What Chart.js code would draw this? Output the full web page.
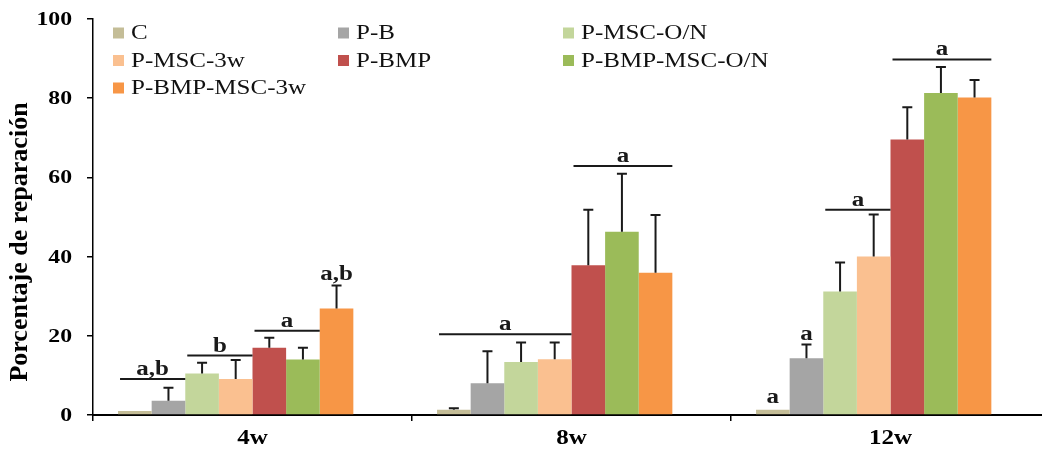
<!DOCTYPE html>
<html>
<head>
<meta charset="utf-8">
<script src="https://cdn.jsdelivr.net/npm/chart.js@4.4.1/dist/chart.umd.min.js"></script>
<style>
  html, body { margin: 0; padding: 0; background: #fff; overflow: hidden; }
  #wrap { position: relative; width: 1050px; height: 453px; }
</style>
</head>
<body>
<div id="wrap"><canvas id="c" width="1050" height="453"></canvas></div>
<script>
// Time points and treatment groups
const categories = ['4w', '8w', '12w'];
const groupNames = ['C', 'P-B', 'P-MSC-O/N', 'P-MSC-3w', 'P-BMP', 'P-BMP-MSC-O/N', 'P-BMP-MSC-3w'];
const groupColors = ['#C4BD97', '#A5A5A5', '#C3D69B', '#FAC090', '#C0504D', '#9BBB59', '#F79646'];

// Mean repair percentage per group (4w, 8w, 12w)
const meanC         = [1.0, 1.3, 1.3];
const meanPB        = [3.6, 8.0, 14.3];
const meanMscON     = [10.5, 13.4, 31.2];
const meanMsc3w     = [9.1, 14.1, 40.0];
const meanBmp       = [17.0, 37.8, 69.6];
const meanBmpMscON  = [14.0, 46.3, 81.3];
const meanBmpMsc3w  = [26.9, 35.9, 80.2];

// Standard deviations (upper whiskers only)
const sdC           = [0, 0.4, 0];
const sdPB          = [3.3, 8.1, 3.5];
const sdMscON       = [2.7, 4.9, 7.3];
const sdMsc3w       = [4.8, 4.2, 10.6];
const sdBmp         = [2.5, 14.0, 8.1];
const sdBmpMscON    = [3.0, 14.6, 6.6];
const sdBmpMsc3w    = [5.8, 14.6, 4.4];

const yTicks = [0, 20, 40, 60, 80, 100];
const yTitle = 'Porcentaje de reparación';

// Significance brackets: category, first bar, last bar, height, letter
const sigBrackets = [
  { cat: 0, from: 0, to: 1, y: 9.1,  text: 'a,b' },
  { cat: 0, from: 2, to: 3, y: 15.0, text: 'b' },
  { cat: 0, from: 4, to: 5, y: 21.3, text: 'a' },
  { cat: 1, from: 0, to: 3, y: 20.4, text: 'a' },
  { cat: 1, from: 4, to: 6, y: 62.9, text: 'a' },
  { cat: 2, from: 2, to: 3, y: 51.8, text: 'a' },
  { cat: 2, from: 4, to: 6, y: 89.8, text: 'a' }
];
// Single-bar significance letters (baseline height)
const sigLetters = [
  { cat: 0, bar: 6, y: 34.1, text: 'a,b' },
  { cat: 2, bar: 0, y: 3.0,  text: 'a' },
  { cat: 2, bar: 1, y: 18.9, text: 'a' }
];

const means = [meanC, meanPB, meanMscON, meanMsc3w, meanBmp, meanBmpMscON, meanBmpMsc3w];
const sds   = [sdC, sdPB, sdMscON, sdMsc3w, sdBmp, sdBmpMscON, sdBmpMsc3w];

const SERIF = '"Liberation Serif", "Times New Roman", Times, serif';
const INK = '#1a1a1a';
const WIDE = 1.25;   // horizontal stretch of the lettering

// text drawn with a horizontal stretch around its anchor point
function wideText(ctx, text, x, y, align, baseline, font, color) {
  ctx.save();
  ctx.font = font;
  ctx.fillStyle = color;
  ctx.textAlign = align;
  ctx.textBaseline = baseline;
  ctx.translate(x, y);
  ctx.scale(WIDE, 1);
  ctx.fillText(text, 0, 0);
  ctx.restore();
}

const datasets = groupNames.map((name, i) => ({
  label: name,
  data: means[i],
  backgroundColor: groupColors[i],
  borderWidth: 0,
  categoryPercentage: 0.843,
  barPercentage: 1.0
}));
// empty trailing slot in each group
datasets.push({
  label: '',
  data: [null, null, null],
  backgroundColor: 'rgba(0,0,0,0)',
  borderWidth: 0,
  categoryPercentage: 0.843,
  barPercentage: 1.0
});

const errorBars = {
  id: 'errorBars',
  afterDatasetsDraw(chart) {
    const ctx = chart.ctx;
    const ys = chart.scales.y;
    ctx.save();
    ctx.strokeStyle = INK;
    ctx.lineWidth = 2;
    sds.forEach((sd, i) => {
      const meta = chart.getDatasetMeta(i);
      sd.forEach((s, g) => {
        if (!s) return;
        const el = meta.data[g];
        const y0 = ys.getPixelForValue(means[i][g]);
        const y1 = ys.getPixelForValue(means[i][g] + s);
        ctx.beginPath();
        ctx.moveTo(el.x, y0);
        ctx.lineTo(el.x, y1);
        ctx.moveTo(el.x - 5, y1);
        ctx.lineTo(el.x + 5, y1);
        ctx.stroke();
      });
    });
    ctx.restore();
  }
};

const significance = {
  id: 'significance',
  afterDatasetsDraw(chart) {
    const ctx = chart.ctx;
    const ys = chart.scales.y;
    const font = 'bold 20px ' + SERIF;
    ctx.save();
    ctx.strokeStyle = INK;
    ctx.lineWidth = 2;
    sigBrackets.forEach(b => {
      const a = chart.getDatasetMeta(b.from).data[b.cat];
      const z = chart.getDatasetMeta(b.to).data[b.cat];
      const x0 = a.x - a.width / 2 + 2;
      const x1 = z.x + z.width / 2;
      const y = ys.getPixelForValue(b.y);
      ctx.beginPath();
      ctx.moveTo(x0, y);
      ctx.lineTo(x1, y);
      ctx.stroke();
      wideText(ctx, b.text, (x0 + x1) / 2, y - 4, 'center', 'alphabetic', font, INK);
    });
    sigLetters.forEach(m => {
      const el = chart.getDatasetMeta(m.bar).data[m.cat];
      wideText(ctx, m.text, el.x, ys.getPixelForValue(m.y), 'center', 'alphabetic', font, INK);
    });
    ctx.restore();
  }
};

// axis labels and title
const axisText = {
  id: 'axisText',
  afterDraw(chart) {
    const ctx = chart.ctx;
    const xs = chart.scales.x, ys = chart.scales.y;
    const area = chart.chartArea;
    ys.ticks.forEach(t => {
      wideText(ctx, String(t.value), area.left - 21, ys.getPixelForValue(t.value) + 1,
               'right', 'middle', 'bold 19px ' + SERIF, '#000');
    });
    categories.forEach((c, i) => {
      wideText(ctx, c, xs.getPixelForTick(i), area.bottom + 24,
               'center', 'middle', 'bold 20px ' + SERIF, '#000');
    });
    ctx.save();
    ctx.translate(20, (area.top + area.bottom) / 2 + 25);
    ctx.rotate(-Math.PI / 2);
    ctx.font = 'bold 26px ' + SERIF;
    ctx.fillStyle = '#000';
    ctx.textAlign = 'center';
    ctx.textBaseline = 'middle';
    ctx.fillText(yTitle, 0, 0);
    ctx.restore();
  }
};

const gridLegend = {
  id: 'gridLegend',
  afterDraw(chart) {
    const ctx = chart.ctx;
    const left = chart.chartArea.left + 20;
    const top = chart.chartArea.top + 14;
    groupNames.forEach((name, i) => {
      const col = i % 3, row = Math.floor(i / 3);
      const x = left + col * 225;
      const y = top + row * 27.5;
      ctx.fillStyle = groupColors[i];
      ctx.fillRect(x, y - 5.5, 11, 11);
      wideText(ctx, name, x + 18, y + 1, 'left', 'middle', '20px ' + SERIF, '#111');
    });
  }
};

new Chart(document.getElementById('c'), {
  type: 'bar',
  data: { labels: categories, datasets },
  plugins: [errorBars, significance, axisText, gridLegend],
  options: {
    responsive: false,
    devicePixelRatio: 1,
    animation: false,
    layout: { padding: { top: 19, right: 0, bottom: 0, left: 0 } },
    plugins: { legend: { display: false }, tooltip: { enabled: false } },
    scales: {
      x: {
        grid: { offset: true, drawOnChartArea: false, tickLength: 6, color: '#000', lineWidth: 1.5 },
        border: { display: true, color: '#000', width: 2 },
        ticks: { display: false },
        afterFit(s) { s.height = 38; }
      },
      y: {
        min: 0,
        max: 100,
        afterBuildTicks(s) { s.ticks = yTicks.map(v => ({ value: v })); },
        grid: { drawOnChartArea: false, tickLength: 6, color: '#000', lineWidth: 1.5 },
        border: { display: true, color: '#000', width: 1.5 },
        ticks: { display: false },
        afterFit(s) { s.width = 93; }
      }
    }
  }
});
</script>
</body>
</html>
